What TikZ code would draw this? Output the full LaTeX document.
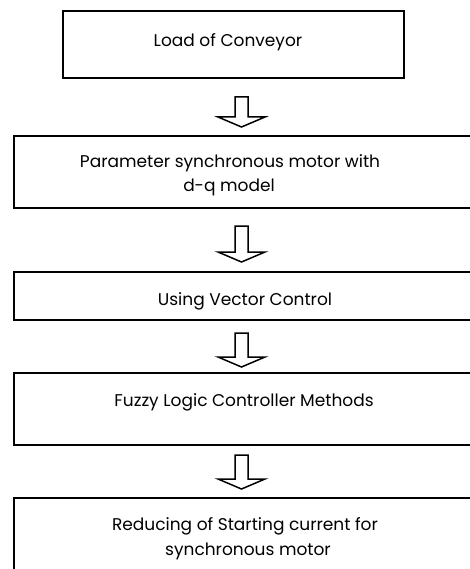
\documentclass[tikz,border=0pt]{standalone}
\usepackage{fontspec}
\setmainfont{Poppins}
\tikzset{
	box/.style={draw, line width=2.2pt, anchor=north west, inner sep=0pt},
	label/.style={anchor=base, inner sep=0pt, font=\fontsize{17}{20}\selectfont},
	arrowline/.style={draw, line width=1.5pt, line join=miter}
}
% block arrow: #1 shaft top, #2 tip
\newcommand{\flowarrow}[2]{%
	\draw[arrowline] (235,#1) -- (235,#2-10) -- (218,#2-10) -- (241.5,#2)
		-- (265,#2-10) -- (248,#2-10) -- (248,#1) -- cycle;}
\begin{document}
\begin{tikzpicture}[x=1pt,y=-1pt]
		\useasboundingbox (0,0) rectangle (470,569);
		\clip (0,0) rectangle (470,569);
		\node[box, minimum width=341pt, minimum height=67pt] (load) at (62,10) {};
		\node[box, minimum width=470pt, minimum height=72pt] (param) at (13,135) {};
		\node[box, minimum width=470pt, minimum height=48pt] (vector) at (13,271) {};
		\node[box, minimum width=470pt, minimum height=72pt] (fuzzy) at (13,372) {};
		\node[box, minimum width=470pt, minimum height=90pt] (reduce) at (13,497) {};
		\node[label] (loadtxt) at (228,47) {Load of Conveyor};
		\node[label] (paramtxt) at (230,168) {Parameter synchronous motor with};
		\node[label] (paramtxtb) at (229,192) {d-q model};
		\node[label] (vectortxt) at (245,305) {Using Vector Control};
		\node[label] (fuzzytxt) at (244,406) {Fuzzy Logic Controller Methods};
		\node[label] (reducetxt) at (245,530) {Reducing of Starting current for};
		\node[label] (reducetxtb) at (248,555) {synchronous motor};
		\flowarrow{97}{127}
		\flowarrow{226}{262}
		\flowarrow{333}{367}
		\flowarrow{455}{489}
		\end{tikzpicture}
\end{document}
